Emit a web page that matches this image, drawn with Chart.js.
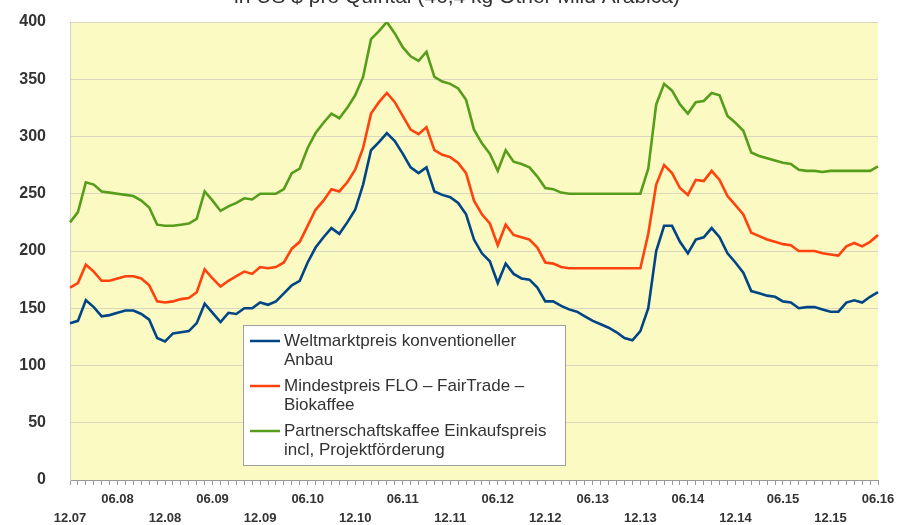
<!DOCTYPE html>
<html>
<head>
<meta charset="utf-8">
<script src="https://cdn.jsdelivr.net/npm/chart.js@4"></script>
<style>
  html, body { margin: 0; padding: 0; background: #fff; }
  #wrap { position: relative; width: 910px; height: 525px; }
</style>
</head>
<body>
<div id="wrap"><canvas id="coffeeChart" width="910" height="525"></canvas></div>
<script>
// monthly, 12.2007 .. 06.2016
const months = [];
for (let y = 7; y <= 16; y++) {
  for (let m = 1; m <= 12; m++) {
    if (y === 7 && m < 12) continue;
    if (y === 16 && m > 6) continue;
    months.push(String(m).padStart(2, '0') + '.' + String(y).padStart(2, '0'));
  }
}

const weltmarkt = [
  137, 139, 157, 151, 143, 144, 146, 148, 148, 145, 140, 124, 121, 128, 129, 130,
  137, 154, 146, 138, 146, 145, 150, 150, 155, 153, 156, 163, 170, 174, 190, 203,
  212, 220, 215, 225, 236, 258, 288, 295, 303, 296, 285, 273, 268, 273, 252, 249,
  247, 242, 232, 210, 198, 191, 172, 189, 180, 176, 175, 168, 156, 156, 152, 149,
  147, 143, 139, 136, 133, 129, 124, 122, 130, 150, 200, 222, 222, 208, 198, 210,
  212, 220, 212, 198, 190, 181, 165, 163, 161, 160, 156, 155, 150, 151, 151, 149,
  147, 147, 155, 157, 155, 160, 164
];
const mindestpreis = [
  168, 172, 188, 182, 174, 174, 176, 178, 178, 176, 170, 156, 155, 156, 158, 159,
  164, 184, 176, 169, 174, 178, 182, 180, 186, 185, 186, 190, 202, 208, 222, 236,
  244, 254, 252, 260, 271, 290, 320, 330, 338, 330, 318, 306, 302, 308, 288, 284,
  282, 277, 268, 244, 232, 224, 205, 223, 214, 212, 210, 203, 190, 189, 186, 185,
  185, 185, 185, 185, 185, 185, 185, 185, 185, 215, 258, 275, 268, 255, 249, 262,
  261, 270, 262, 248, 240, 232, 216, 213, 210, 208, 206, 205, 200, 200, 200, 198,
  197, 196, 204, 207, 204, 208, 214
];
const partnerschaft = [
  225, 234, 260, 258, 252, 251, 250, 249, 248, 244, 238, 223, 222, 222, 223, 224,
  228, 252, 244, 235, 239, 242, 246, 245, 250, 250, 250, 254, 268, 272, 290, 303,
  312, 320, 316, 325, 336, 352, 385, 392, 400, 390, 378, 370, 366, 374, 352, 348,
  346, 342, 332, 306, 294, 285, 270, 288, 278, 276, 273, 265, 255, 254, 251, 250,
  250, 250, 250, 250, 250, 250, 250, 250, 250, 272, 328, 346, 340, 328, 320, 330,
  331, 338, 336, 318, 312, 305, 286, 283, 281, 279, 277, 276, 271, 270, 270, 269,
  270, 270, 270, 270, 270, 270, 274
];

const seriesNames = [
  ['Weltmarktpreis konventioneller', 'Anbau'],
  ['Mindestpreis FLO \u2013 FairTrade \u2013', 'Biokaffee'],
  ['Partnerschaftskaffee Einkaufspreis', 'incl, Projektf\u00f6rderung']
];
const seriesColors = ['#004586', '#ff420e', '#579d1c'];
const titleText = 'in US $ pro Quintal (46,4 kg Other Mild Arabica)';

// yellow plot area, cut-off title, legend box inside the plot
const decor = {
  id: 'decor',
  beforeDraw(chart) {
    const { ctx, chartArea: a } = chart;
    ctx.save();
    ctx.fillStyle = '#fbfac2';
    ctx.fillRect(a.left, a.top, a.right - a.left, a.bottom - a.top);
    ctx.fillStyle = '#333';
    ctx.font = '21px "Liberation Sans", Arial, sans-serif';
    ctx.textAlign = 'center';
    ctx.textBaseline = 'middle';
    ctx.fillText(titleText, 457, -3);
    ctx.restore();
  },
  afterDatasetsDraw(chart) {
    const ctx = chart.ctx;
    const bx = 243, by = 325, bw = 322, bh = 140;
    ctx.save();
    ctx.fillStyle = '#fff';
    ctx.fillRect(bx, by, bw, bh);
    ctx.strokeStyle = '#a0a0a0';
    ctx.lineWidth = 1;
    ctx.strokeRect(bx + 0.5, by + 0.5, bw, bh);
    ctx.font = '17px "Liberation Sans", Arial, sans-serif';
    ctx.textBaseline = 'middle';
    ctx.textAlign = 'left';
    chart.data.datasets.forEach((ds, i) => {
      const y0 = by + 16 + i * 45;
      ctx.strokeStyle = ds.borderColor;
      ctx.lineWidth = 2.5;
      ctx.beginPath();
      ctx.moveTo(bx + 7, y0);
      ctx.lineTo(bx + 37, y0);
      ctx.stroke();
      ctx.fillStyle = '#333';
      seriesNames[i].forEach((line, j) => ctx.fillText(line, bx + 41, y0 + j * 19));
    });
    ctx.restore();
  }
};

new Chart(document.getElementById('coffeeChart'), {
  type: 'line',
  data: {
    labels: months,
    datasets: [weltmarkt, mindestpreis, partnerschaft].map((d, i) => ({
      label: seriesNames[i].join(' '),
      data: d,
      borderColor: seriesColors[i],
      backgroundColor: seriesColors[i],
      borderWidth: 2.6,
      pointRadius: 0,
      tension: 0
    }))
  },
  options: {
    responsive: false,
    animation: false,
    layout: { padding: { top: 22, right: 32, left: 0, bottom: 0 } },
    plugins: {
      legend: { display: false },
      tooltip: { enabled: false }
    },
    scales: {
      x: {
        offset: false,
        afterFit: s => { s.height = 45; s.paddingLeft = 0; s.paddingRight = 0; },
        grid: { drawOnChartArea: false, drawTicks: true, tickLength: 5, color: '#999' },
        border: { color: '#999' },
        ticks: {
          autoSkip: false,
          maxRotation: 0,
          padding: 5,
          color: '#333',
          font: { family: '"Liberation Sans", Arial, sans-serif', size: 13, weight: 'bold', lineHeight: 1.46 },
          callback(v, i) {
            const lab = months[i];
            if (lab.startsWith('06.')) return [lab];
            if (lab.startsWith('12.')) return ['', lab];
            return '';
          }
        }
      },
      y: {
        min: 0,
        max: 400,
        afterFit: s => { s.width = 70; s.paddingTop = 0; s.paddingBottom = 0; },
        grid: { color: '#d9d7bd', drawTicks: false },
        border: { color: '#cfcfcf' },
        ticks: {
          stepSize: 50,
          padding: 24,
          color: '#333',
          font: { family: '"Liberation Sans", Arial, sans-serif', size: 16, weight: 'bold' }
        }
      }
    }
  },
  plugins: [decor]
});
</script>
</body>
</html>
